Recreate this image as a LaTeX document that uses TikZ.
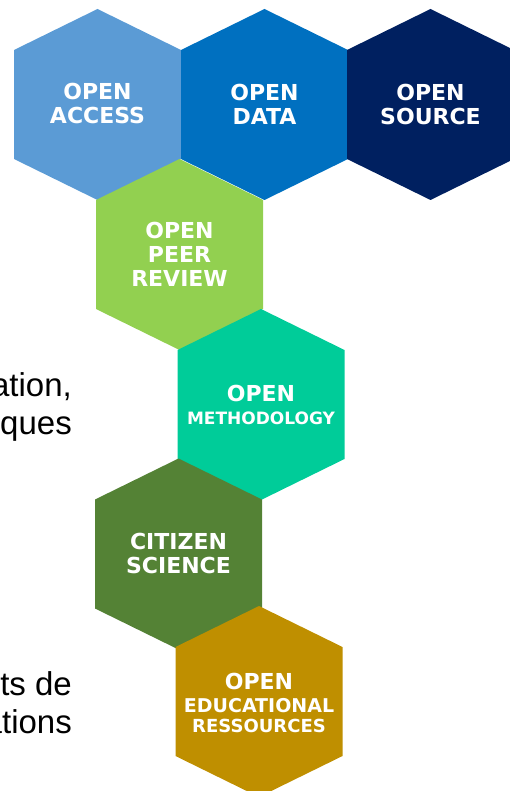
\documentclass[tikz,border=0pt]{standalone}
\usepackage{fontspec}
\setmainfont{Liberation Sans}
\newfontfamily\hexfont{DejaVu Sans}
\definecolor{oacol}{HTML}{5B9BD5}
\definecolor{odcol}{HTML}{0070C0}
\definecolor{oscol}{HTML}{002060}
\definecolor{oprcol}{HTML}{92D050}
\definecolor{omcol}{HTML}{00CC99}
\definecolor{cscol}{HTML}{548235}
\definecolor{oercol}{HTML}{BF8F00}
\newcommand\educap{\fontsize{19}{21}\selectfont}
\newcommand\rescap{\fontsize{18}{20}\selectfont}
\newcommand\tinycap{\fontsize{17}{20}\selectfont}
\tikzset{
  hexa/.pic={\path[pic actions] (0,-95.5) -- (83.5,-54.5) -- (83.5,54.5) -- (0,95.5) -- (-83.5,54.5) -- (-83.5,-54.5) -- cycle;},
  hexlabel/.style={text=white, font=\hexfont\bfseries\fontsize{22}{24}\selectfont, align=center, inner sep=0pt},
  sidetext/.style={text=black, font=\fontsize{33}{38}\selectfont, inner sep=0pt, anchor=base east}
}
\begin{document}
\begin{tikzpicture}[x=1pt,y=-1pt]
\useasboundingbox (0,0) rectangle (510,791);
\clip (0,0) rectangle (510,791);
% hexagons
\pic[fill=oacol] at (97.5,104.5) {hexa};
\pic[fill=odcol] at (264.5,104.5) {hexa};
\pic[fill=oscol] at (430.5,104.5) {hexa};
\pic[fill=oprcol] at (179.5,254.5) {hexa};
\pic[fill=omcol] at (261,404.5) {hexa};
\pic[fill=cscol] at (178.5,554) {hexa};
\pic[fill=oercol] at (259,701.5) {hexa};
% labels
\node[hexlabel] (oa) at (97.5,103) {OPEN\\ACCESS};
\node[hexlabel] (od) at (264.5,104) {OPEN\\DATA};
\node[hexlabel] (os) at (430.5,104) {OPEN\\SOURCE};
\node[hexlabel] (opr) at (179.5,254) {OPEN\\PEER\\REVIEW};
\node[hexlabel] (om) at (261,405) {OPEN\\[-1pt]{\tinycap METHODOLOGY}};
\node[hexlabel] (cs) at (178.5,553.5) {CITIZEN\\SCIENCE};
\node[hexlabel] (oer) at (259,702.5) {OPEN\\[-1pt]{\educap EDUCATIONAL}\\[-4pt]{\rescap RESSOURCES}};
% cut-off side text
\node[sidetext] (t1) at (72,396) {ation,};
\node[sidetext] (t2) at (72,434) {ques};
\node[sidetext] (t3) at (72,695) {ts de};
\node[sidetext] (t4) at (72,733) {ations};
\end{tikzpicture}
\end{document}
